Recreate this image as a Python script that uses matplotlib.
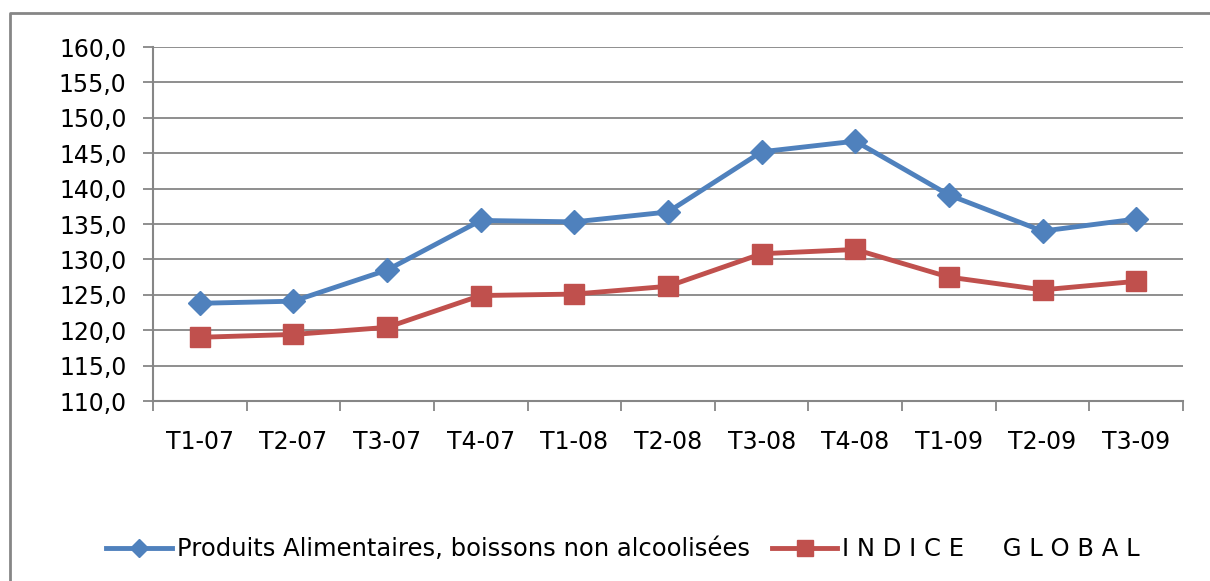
import matplotlib
matplotlib.use('Agg')
from matplotlib import pyplot as plt
from matplotlib.lines import Line2D
import numpy as np

plt.rcParams['font.family'] = ['DejaVu Sans']

# data
periods = ['T1-07', 'T2-07', 'T3-07', 'T4-07', 'T1-08', 'T2-08',
           'T3-08', 'T4-08', 'T1-09', 'T2-09', 'T3-09']
alimentaires = [123.8, 124.1, 128.5, 135.5, 135.3, 136.7,
                145.2, 146.7, 139.1, 134.0, 135.7]
indice_global = [119.0, 119.4, 120.4, 124.9, 125.1, 126.2,
                 130.8, 131.4, 127.5, 125.7, 126.9]
y_ticks = np.arange(110, 161, 5)

grey = '#868686'
blue = '#4F81BD'
red = '#C0504D'

fig = plt.figure(figsize=(12.1, 5.81), dpi=100)
ax = fig.add_axes([153/1210, 1 - 401/581, 1030/1210, 354/581])

x = np.arange(len(periods))
ax.plot(x, alimentaires, color=blue, lw=3.5, marker='D', markersize=12,
        label='Produits Alimentaires, boissons non alcoolisées')
ax.plot(x, indice_global, color=red, lw=3.5, marker='s', markersize=15,
        label='I N D I C E     G L O B A L')

ax.set_xlim(-0.5, len(periods) - 0.5)
ax.set_ylim(110, 160)
ax.set_yticks(y_ticks)
ax.set_yticklabels([f'{v:.1f}'.replace('.', ',') for v in y_ticks])
ax.yaxis.grid(True, color=grey, lw=1.3)
ax.set_axisbelow(True)

ax.set_xticks(x)
ax.set_xticklabels(periods)
ax.set_xticks(np.arange(-0.5, len(periods)), minor=True)
ax.tick_params(axis='x', which='major', length=0, pad=21, labelsize=17)
ax.tick_params(axis='x', which='minor', length=7, width=1.3, color=grey, direction='out')
ax.tick_params(axis='y', length=7, width=1.3, color=grey, pad=12, labelsize=17)

for side in ['top', 'right']:
    ax.spines[side].set_visible(False)
for side in ['left', 'bottom']:
    ax.spines[side].set_color(grey)
    ax.spines[side].set_linewidth(1.5)

fig.legend(loc='center', bbox_to_anchor=(0.515, 0.055), ncol=2, frameon=False,
           fontsize=17.5, handlelength=2.7, columnspacing=0.9, handletextpad=0.2,
           markerscale=0.75)

# outer chart border (top and left edges only are visible)
fig.add_artist(Line2D([10/1210, 10/1210, 1.0], [0.0, 1 - 13/581, 1 - 13/581],
                      transform=fig.transFigure, color=grey, lw=2))

plt.savefig('out.png', dpi=100)
